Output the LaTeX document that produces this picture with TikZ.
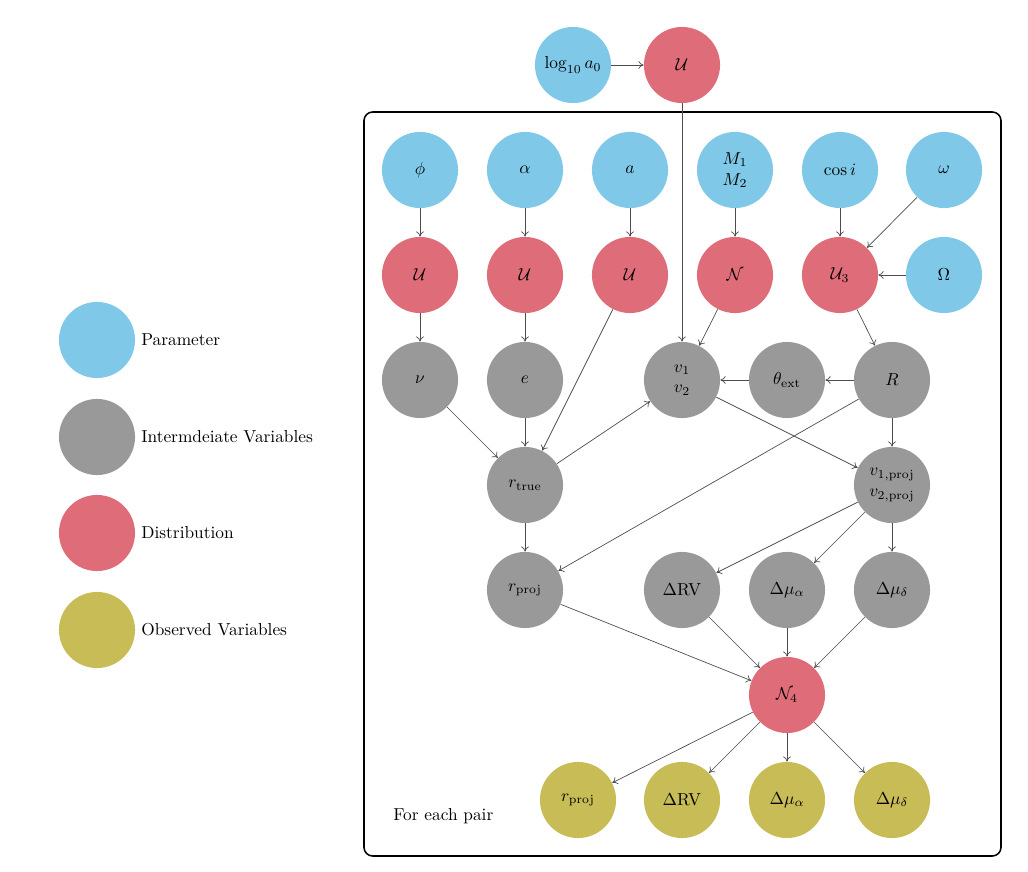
\documentclass[tikz,border=0pt]{standalone}
\usetikzlibrary{arrows.meta}
\definecolor{pblue}{RGB}{127,200,232}
\definecolor{dred}{RGB}{223,108,121}
\definecolor{igray}{RGB}{153,153,153}
\definecolor{oolive}{RGB}{199,188,86}
\begin{document}
\begin{tikzpicture}[x=0.577pt,y=-0.577pt,
  circ/.style={circle, minimum size=43.9pt, inner sep=0pt, draw=none, align=center},
  par/.style={circ, fill=pblue},
  dist/.style={circ, fill=dred},
  inter/.style={circ, fill=igray},
  obs/.style={circ, fill=oolive},
  arr/.style={-{To[length=3pt,width=4.5pt]}, draw=black!70, line width=0.4pt},
  legtext/.style={anchor=west, inner sep=0pt}]
\useasboundingbox (0,0) rectangle (1028,872);
% plate
\draw[line width=0.9pt, rounded corners=5pt] (364,112) rectangle (1001,856);
\node[anchor=west, inner sep=0pt] (plabel) at (393,816) {For each pair};
% top
\node[par] (la) at (573,65) {$\log_{10} a_0$};
\node[dist] (u0) at (682,65) {$\mathcal{U}$};
% row 1
\node[par] (phi) at (420,170) {$\phi$};
\node[par] (alpha) at (525,170) {$\alpha$};
\node[par] (a) at (630,170) {$a$};
\node[par] (m) at (735,170) {$M_1$\\$M_2$};
\node[par] (cosi) at (840,170) {$\cos i$};
\node[par] (omega) at (944,170) {$\omega$};
% row 2
\node[dist] (u1) at (420,275) {$\mathcal{U}$};
\node[dist] (u2) at (525,275) {$\mathcal{U}$};
\node[dist] (u3) at (630,275) {$\mathcal{U}$};
\node[dist] (n) at (735,275) {$\mathcal{N}$};
\node[dist] (u33) at (840,275) {$\mathcal{U}_3$};
\node[par] (bigomega) at (944,275) {$\Omega$};
% row 3
\node[inter] (nu) at (420,380) {$\nu$};
\node[inter] (e) at (525,380) {$e$};
\node[inter] (v) at (682,380) {$v_1$\\$v_2$};
\node[inter] (theta) at (787,380) {$\theta_{\mathrm{ext}}$};
\node[inter] (R) at (892,380) {$R$};
% row 4
\node[inter] (rtrue) at (525,485) {$r_{\mathrm{true}}$};
\node[inter] (vproj) at (892,485) {$v_{1,\mathrm{proj}}$\\$v_{2,\mathrm{proj}}$};
% row 5
\node[inter] (rproj) at (525,590) {$r_{\mathrm{proj}}$};
\node[inter] (drv) at (682,590) {$\Delta\mathrm{RV}$};
\node[inter] (dma) at (787,590) {$\Delta\mu_\alpha$};
\node[inter] (dmd) at (892,590) {$\Delta\mu_\delta$};
% row 6
\node[dist] (n4) at (787,695) {$\mathcal{N}_4$};
% row 7
\node[obs] (orproj) at (578,800) {$r_{\mathrm{proj}}$};
\node[obs] (odrv) at (682,800) {$\Delta\mathrm{RV}$};
\node[obs] (odma) at (787,800) {$\Delta\mu_\alpha$};
\node[obs] (odmd) at (892,800) {$\Delta\mu_\delta$};
% legend
\node[par] (lp) at (97,340) {};
\node[inter] (li) at (97,437) {};
\node[dist] (ld) at (97,533) {};
\node[obs] (lo) at (97,630) {};
\node[legtext] (lpt) at (141,340) {Parameter};
\node[legtext] (lit) at (141,437) {Intermdeiate Variables};
\node[legtext] (ldt) at (141,533) {Distribution};
\node[legtext] (lot) at (141,630) {Observed Variables};
% edges
\draw[arr] (la) -- (u0);
\draw[arr] (u0) -- (v);
\draw[arr] (phi) -- (u1);
\draw[arr] (alpha) -- (u2);
\draw[arr] (a) -- (u3);
\draw[arr] (m) -- (n);
\draw[arr] (cosi) -- (u33);
\draw[arr] (omega) -- (u33);
\draw[arr] (bigomega) -- (u33);
\draw[arr] (u1) -- (nu);
\draw[arr] (u2) -- (e);
\draw[arr] (u3) -- (rtrue);
\draw[arr] (n) -- (v);
\draw[arr] (u33) -- (R);
\draw[arr] (nu) -- (rtrue);
\draw[arr] (e) -- (rtrue);
\draw[arr] (rtrue) -- (v);
\draw[arr] (theta) -- (v);
\draw[arr] (R) -- (theta);
\draw[arr] (R) -- (vproj);
\draw[arr] (R) -- (rproj);
\draw[arr] (v) -- (vproj);
\draw[arr] (rtrue) -- (rproj);
\draw[arr] (vproj) -- (drv);
\draw[arr] (vproj) -- (dma);
\draw[arr] (vproj) -- (dmd);
\draw[arr] (rproj) -- (n4);
\draw[arr] (drv) -- (n4);
\draw[arr] (dma) -- (n4);
\draw[arr] (dmd) -- (n4);
\draw[arr] (n4) -- (orproj);
\draw[arr] (n4) -- (odrv);
\draw[arr] (n4) -- (odma);
\draw[arr] (n4) -- (odmd);
\end{tikzpicture}
\end{document}
